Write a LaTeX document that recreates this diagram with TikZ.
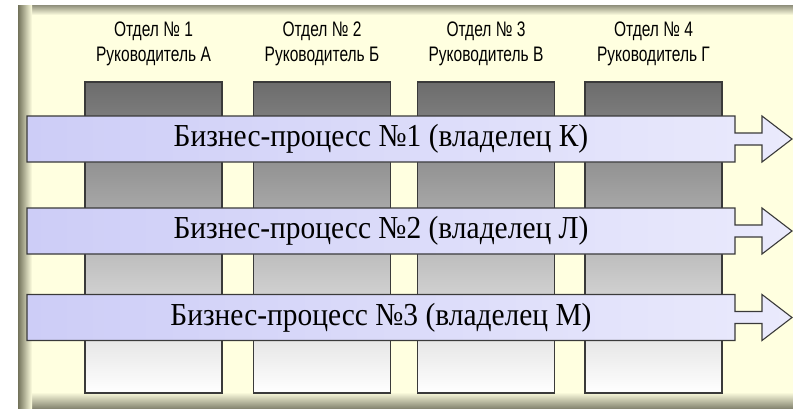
\documentclass[tikz,border=0pt]{standalone}
\usepackage{fontspec}
\setmainfont{Liberation Serif}[FakeStretch=0.92]
\newfontfamily\narrowsans[FakeStretch=0.74]{Liberation Sans}
\usetikzlibrary{positioning}

\definecolor{panelyellow}{HTML}{FFFFE0}
\definecolor{panelshade}{HTML}{72725A}
\definecolor{boxdark}{HTML}{6C6C6C}
\definecolor{barleft}{HTML}{CDCDF7}
\definecolor{barright}{HTML}{EAEAFC}
\definecolor{edgegray}{HTML}{3A3A3A}

\tikzset{
  dept/.style={draw=edgegray,line width=1.1pt,rectangle,minimum width=137pt,
    minimum height=311pt,top color=boxdark,bottom color=white,inner sep=0pt},
  depthead/.style={align=center,font=\narrowsans\fontsize{21}{25}\selectfont,inner sep=0pt},
  procarrow/.style={draw=edgegray,line width=1.1pt,line join=miter,left color=barleft,right color=barright},
  proclabel/.style={font=\fontsize{32}{32}\selectfont,inner sep=0pt}
}

\begin{document}
\begin{tikzpicture}[x=1pt,y=-1pt]

  \useasboundingbox (0,0) rectangle (793,408);
  \fill [white] (0,0) rectangle (793,408);

  % yellow panel with soft edges
  \fill [panelyellow] (18,5) rectangle (793,408);
  \shade [top color=panelshade!80,bottom color=panelyellow] (18,5) rectangle (793,15);
  \shade [top color=panelyellow,bottom color=panelshade!85] (18,392) rectangle (793,408);
  \shade [left color=panelshade,right color=panelyellow] (18,5) rectangle (32,408);

  % departments
  \foreach \i/\cx/\who in {1/153.5/А,2/322/Б,3/486/В,4/653.5/Г} {
    \node [dept] (dep\i) at (\cx,237.5) {};
    \node [depthead,above=15pt of dep\i] (head\i) {Отдел № \i\\Руководитель \who};
  }

  % business processes
  \foreach \i/\cy/\who in {1/139/К,2/231/Л,3/317.5/М} {
    \draw [procarrow] (27,\cy-23) -- (735,\cy-23) -- (735,\cy-6) -- (762,\cy-6)
      -- (762,\cy-23) -- (792,\cy) -- (762,\cy+23) -- (762,\cy+6) -- (735,\cy+6)
      -- (735,\cy+23) -- (27,\cy+23) -- cycle;
    \node [proclabel] (proc\i) at (381,\cy) {Бизнес-процесс №\i{} (владелец \who)};
  }

\end{tikzpicture}
\end{document}
